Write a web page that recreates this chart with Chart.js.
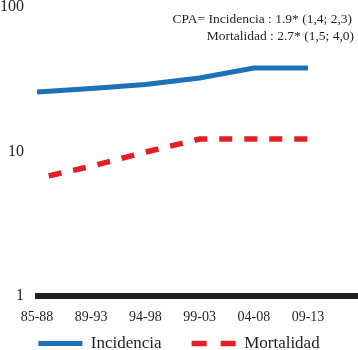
<!DOCTYPE html>
<html>
<head>
<meta charset="utf-8">
<script src="https://cdn.jsdelivr.net/npm/chart.js@4.4.0/dist/chart.umd.min.js"></script>
<style>
    html, body { margin: 0; padding: 0; background: #fff; }
    #wrap { width: 358px; height: 350px; }
</style>
</head>
<body>
<div id="wrap"><canvas id="myChart"></canvas></div>
<script>
const periods = ["85-88", "89-93", "94-98", "99-03", "04-08", "09-13"];
const incidencia = [25.8, 27.3, 29.1, 32.3, 37.8, 37.8];
const mortalidad = [6.5, 7.9, 9.9, 12.2, 12.2, 12.2];
const yTicks = [1, 10, 100];
const notes = ["CPA= Incidencia : 1.9* (1,4; 2,3)", "Mortalidad : 2.7* (1,5; 4,0)"];

const serif = "'Liberation Serif', 'DejaVu Serif', serif";
const ink = "#231f20";
const ctx = document.getElementById("myChart");

// thick black baseline at value 1, runs past the plot to the right edge
const baseline = {
    id: "baseline",
    beforeDatasetsDraw(chart) {
        const y = chart.scales.y.getPixelForValue(1);
        const c = chart.ctx;
        c.save();
        c.fillStyle = ink;
        c.fillRect(35, y - 3, chart.width - 35, 6);
        c.restore();
    }
};

// APC note in the top right corner
const noteText = {
    id: "noteText",
    afterDraw(chart) {
        const c = chart.ctx;
        c.save();
        c.font = "13.5px " + serif;
        c.fillStyle = ink;
        c.textAlign = "right";
        c.textBaseline = "middle";
        c.fillText(notes[0], 352, 19);
        c.fillText(notes[1], 354, 36);
        c.restore();
    }
};

// legend padding is large to space the two items apart,
// so pull the legend box back up under the axis labels
const legendLift = {
    id: "legendLift",
    afterLayout(chart) {
        chart.legend.top -= 24;
        chart.legend.bottom -= 24;
    }
};

new Chart(ctx, {
    type: "line",
    data: {
        labels: periods,
        datasets: [
            {
                label: "Incidencia",
                data: incidencia,
                borderColor: "#1b72b8",
                backgroundColor: "#1b72b8",
                borderWidth: 5,
                pointRadius: 0,
                tension: 0
            },
            {
                label: "Mortalidad",
                data: mortalidad,
                borderColor: "#e31e26",
                backgroundColor: "#e31e26",
                borderWidth: 5.5,
                borderDash: [13, 12],
                borderDashOffset: 13,
                pointRadius: 0,
                tension: 0
            }
        ]
    },
    options: {
        responsive: true,
        maintainAspectRatio: false,
        animation: false,
        layout: { padding: { top: 7, right: 0, left: 0, bottom: -36 } },
        scales: {
            x: {
                type: "category",
                offset: false,
                grid: { display: false, drawTicks: false },
                border: { display: false },
                ticks: {
                    font: { family: serif, size: 14, lineHeight: 1 },
                    color: ink,
                    padding: 14,
                    maxRotation: 0,
                    autoSkip: false
                },
                // keep the plot narrower than the canvas, legend stays full width
                afterFit: (s) => { s.height = 33; s.paddingLeft = 0; s.paddingRight = 50; }
            },
            y: {
                type: "logarithmic",
                min: 1,
                max: 100,
                grid: { display: false, drawTicks: false },
                border: { display: false },
                afterBuildTicks: (s) => { s.ticks = yTicks.map(v => ({ value: v })); },
                ticks: {
                    font: { family: serif, size: 16 },
                    color: ink,
                    padding: 13,
                    callback: (v) => String(v)
                },
                afterFit: (s) => { s.width = 37; s.paddingTop = 0; s.paddingBottom = 0; }
            }
        },
        plugins: {
            tooltip: { enabled: false },
            legend: {
                position: "bottom",
                labels: {
                    usePointStyle: true,
                    pointStyle: "line",
                    pointStyleWidth: 44,
                    padding: 30,
                    color: ink,
                    font: { family: serif, size: 17 },
                    generateLabels: (chart) =>
                        Chart.defaults.plugins.legend.labels.generateLabels(chart).map((item, i) => ({
                            ...item,
                            lineDash: i ? [15, 14] : [],
                            lineDashOffset: 0
                        }))
                }
            }
        }
    },
    plugins: [baseline, noteText, legendLift]
});
</script>
</body>
</html>
